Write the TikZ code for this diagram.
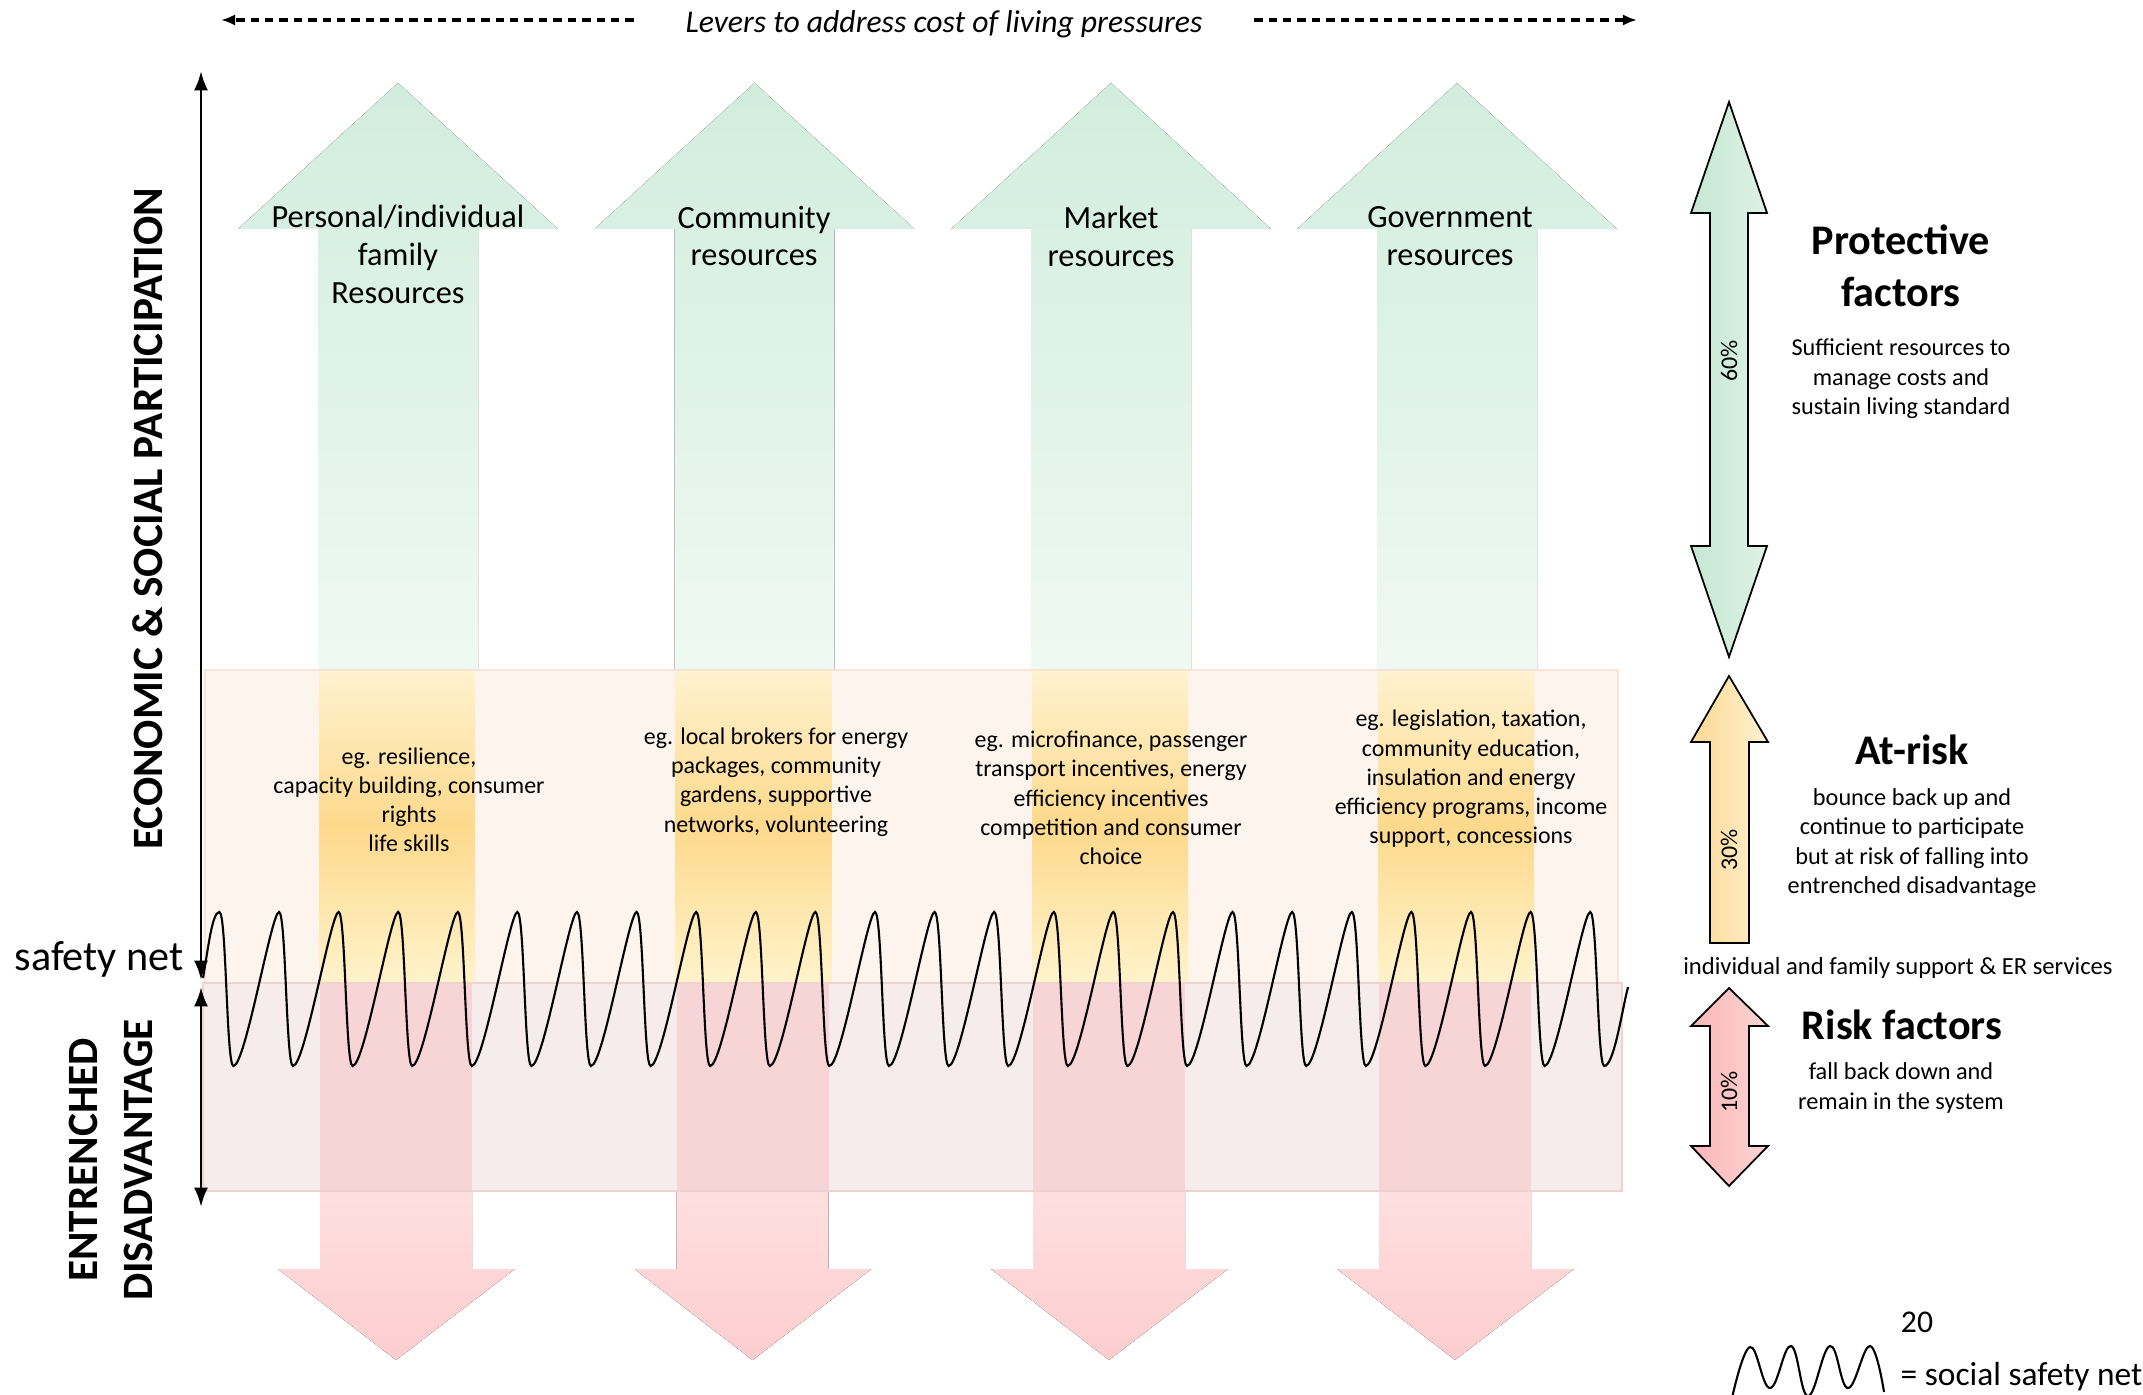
\documentclass[tikz,border=0pt]{standalone}
\usepackage{fontspec}
\setmainfont{Carlito}
\usetikzlibrary{arrows.meta}

\definecolor{upTop}{HTML}{D1EDDE}
\definecolor{upBot}{HTML}{EFF9F3}
\definecolor{riskTop}{HTML}{FFF2CF}
\definecolor{riskMid}{HTML}{FDD98C}
\definecolor{riskBot}{HTML}{FFF3CB}
\definecolor{entrCol}{HTML}{F7D5D6}
\definecolor{downTop}{HTML}{FEDFE0}
\definecolor{downBot}{HTML}{FDCDCE}
\definecolor{bandRisk}{HTML}{FDF4EE}
\definecolor{bandRiskLine}{HTML}{FBE3D6}
\definecolor{bandEntr}{HTML}{F6ECEC}
\definecolor{bandEntrLine}{HTML}{EED2D2}
\definecolor{protL}{HTML}{C6E7D3}
\definecolor{protR}{HTML}{DDF2E6}
\definecolor{atL}{HTML}{FCD893}
\definecolor{atR}{HTML}{FFF1D0}
\definecolor{rfL}{HTML}{FBB6B7}
\definecolor{rfR}{HTML}{FDD4D4}

\begin{document}
\begin{tikzpicture}[x=0.01cm,y=-0.01cm,
  lever/.style={font=\fontsize{9.2}{10.8}\selectfont,align=center},
  example/.style={font=\fontsize{6.8}{8.3}\selectfont,align=center},
  heading/.style={font=\fontsize{12}{14.8}\selectfont\bfseries,align=center},
  note/.style={font=\fontsize{6.9}{8.4}\selectfont,align=center},
  side/.style={font=\fontsize{12.3}{15.5}\selectfont\bfseries,align=center,rotate=90},
  pct/.style={font=\fontsize{6.8}{8}\selectfont,rotate=90},
  axis/.style={line width=0.85pt,{Latex[length=5.5pt,width=4pt]}-{Latex[length=5.5pt,width=4pt]}},
  levarrow/.style={line width=0.9pt,dash pattern=on 2.4pt off 1.7pt,-{Latex[length=4pt,width=3.2pt]}},
  wave/.style={line width=0.6pt},
  factor/.style={draw=black,line width=0.5pt}]

\useasboundingbox (0,0) rectangle (2143,1395);

\fill[bandRisk] (205,670) rectangle (1618,983);
\fill[bandEntr] (203,983) rectangle (1622,1191);

\foreach \c in {398,754.5,1111,1457}{
  \fill[top color=upTop,bottom color=upBot] (\c,83) -- ({\c+160},229) -- ({\c+80},229) -- ({\c+80},670)
    -- ({\c-80},670) -- ({\c-80},229) -- ({\c-160},229) -- cycle;
  \fill[top color=riskTop,bottom color=riskBot,middle color=riskMid] ({\c-79},670) rectangle ({\c+77},983);
  \fill[entrCol] ({\c-78},983) rectangle ({\c+74},1191);
  \fill[top color=downTop,bottom color=downBot] ({\c-78},1191) -- ({\c+74},1191) -- ({\c+74},1269)
    -- ({\c+117},1269) -- ({\c-2},1360) -- ({\c-120},1269) -- ({\c-78},1269) -- cycle;
}

\draw[bandRiskLine,line width=0.5pt] (205,670) rectangle (1618,983);
\draw[bandEntrLine,line width=0.5pt] (203,983) rectangle (1622,1191);

\draw[wave] (203,978) .. controls (208,950) and (212,912) .. (219.4,912)
  \foreach \i [evaluate=\i as \p using 219.4+59.6*\i] in {0,...,22}{
    .. controls ({\p+7},912) and ({\p+7},1066) .. ({\p+14},1066)
    .. controls ({\p+26},1066) and ({\p+52},912) .. ({\p+59.6},912)}
  .. controls (1597.2,912) and (1597.2,1066) .. (1604.2,1066)
  .. controls (1614,1066) and (1622,1010) .. (1628,987);

\coordinate (axtop) at (201,71);
\coordinate (axnet) at (201,980);
\coordinate (axnetb) at (201,987);
\coordinate (axbot) at (201,1207);
\draw[axis] (axnet) -- (axtop);
\draw[axis] (axnetb) -- (axbot);

\node[font=\fontsize{9}{11}\selectfont\itshape,outer xsep=0.4cm] (lev) at (944,24) {Levers to address cost of living pressures};
\coordinate (levL) at (221,20);
\coordinate (levR) at (1637,20);
\draw[levarrow] (lev.west |- levL) -- (levL);
\draw[levarrow] (lev.east |- levR) -- (levR);

\node[side] (econ) at (148,519) {ECONOMIC \& SOCIAL PARTICIPATION};
\node[side] (entr) at (111,1160) {ENTRENCHED\\DISADVANTAGE};
\node[font=\fontsize{12}{14}\selectfont] (safety) at (99,959) {safety net};

\node[lever] (pers) at (398,254) {Personal/individual\\family\\Resources};
\node[lever] (comm) at (754,236) {Community\\resources};
\node[lever] (mark) at (1111,236) {Market\\resources};
\node[lever] (gov) at (1450,236) {Government\\resources};

\node[example] (ex1) at (409,800) {eg. resilience,\\capacity building, consumer\\rights\\life skills};
\node[example] (ex2) at (776,782) {eg. local brokers for energy\\packages, community\\gardens, supportive\\networks, volunteering};
\node[example] (ex3) at (1111,798) {eg. microfinance, passenger\\transport incentives, energy\\efficiency incentives\\competition and consumer\\choice};
\node[example] (ex4) at (1471,779) {eg. legislation, taxation,\\community education,\\insulation and energy\\efficiency programs, income\\support, concessions};

\draw[factor,left color=protL,right color=protR] (1729,102) -- (1767,213) -- (1748,213) -- (1748,546) -- (1767,546)
  -- (1729,657) -- (1691,546) -- (1710,546) -- (1710,213) -- (1691,213) -- cycle;
\node[pct] (p60) at (1729,361) {60\%};
\draw[factor,left color=atL,right color=atR] (1729,676) -- (1768,742) -- (1749,742) -- (1749,943) -- (1710,943)
  -- (1710,742) -- (1691,742) -- cycle;
\node[pct] (p30) at (1729,850) {30\%};
\draw[factor,left color=rfL,right color=rfR] (1729,988) -- (1768,1026) -- (1749,1026) -- (1749,1146) -- (1768,1146)
  -- (1729,1186) -- (1691,1146) -- (1710,1146) -- (1710,1026) -- (1691,1026) -- cycle;
\node[pct] (p10) at (1729,1092) {10\%};

\node[heading] (prot) at (1901,266) {Protective\\factors};
\node[note] (protx) at (1901,379) {Sufficient resources to\\manage costs and\\sustain living standard};
\node[heading] (atrisk) at (1912,750) {At-risk};
\node[note] (atriskx) at (1912,843) {bounce back up and\\continue to participate\\but at risk of falling into\\entrenched disadvantage};
\node[font=\fontsize{7}{9}\selectfont] (support) at (1898,968) {individual and family support \& ER services};
\node[heading] (riskf) at (1902,1025) {Risk factors};
\node[note] (riskx) at (1901,1088) {fall back down and\\remain in the system};

\node[font=\fontsize{9}{11}\selectfont] (twenty) at (1917,1322) {20};
\node[font=\fontsize{9.5}{11}\selectfont,anchor=west,inner sep=0pt] (legend) at (1900,1377) {= social safety net};
\draw[wave] plot[smooth,tension=0.7] coordinates {(1732,1398) (1750,1347) (1770,1388) (1791,1346) (1808,1396)
  (1830,1346) (1848,1388) (1870,1346) (1884,1392)};

\end{tikzpicture}
\end{document}
